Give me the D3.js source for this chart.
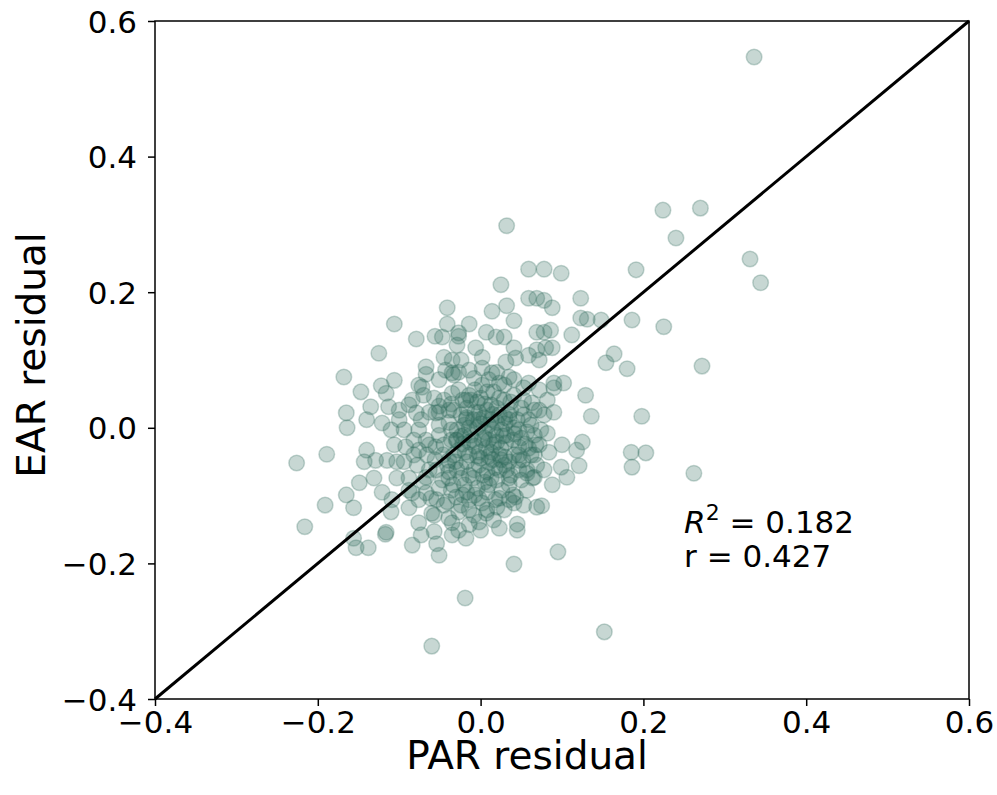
<!DOCTYPE html>
<html><head><meta charset="utf-8">
<script src="https://cdn.jsdelivr.net/npm/d3@7"></script>
<style>html,body{margin:0;padding:0;background:#fff;}svg{display:block;font-family:"DejaVu Sans",sans-serif;}</style>
</head><body>
<script>
// PAR residual (x) and EAR residual (y)
const parX = [
0.336,0.224,0.270,0.240,0.331,0.344,0.032,0.191,0.225,0.186,0.272,0.180,0.164,0.154,0.198,
0.185,0.203,0.186,0.262,
0.152,-0.060,-0.019,0.041,0.095,-0.226,-0.216,-0.191,-0.189,-0.168,-0.153,-0.138,-0.125,-0.106,-0.156,
-0.117,-0.084,-0.073,-0.054,-0.051,-0.057,-0.035,-0.018,0.045,
-0.041,-0.041,-0.014,-0.079,-0.056,-0.027,-0.029,-0.006,-0.045,-0.024,-0.106,-0.067,-0.067,-0.035,-0.027,-0.122,-0.147,-0.076,
0.059,0.078,0.099,0.025,0.059,0.069,0.078,0.088,0.123,0.032,0.014,0.041,0.123,0.131,0.148,0.069,0.078,0.086,0.112,0.007,0.019,0.029,0.041,0.069,0.080,0.088,0.059,0.072,0.002,0.031,0.043,-0.027,-0.047,-0.035,-0.043,0.002,0.014,0.035,0.090,0.102,0.002,0.023,
-0.135,-0.165,-0.140,-0.164,-0.116,-0.113,-0.121,-0.100,-0.084,-0.079,-0.072,-0.055,-0.140,-0.143,-0.129,-0.115,-0.103,-0.092,-0.067,-0.076,-0.055,-0.149,-0.131,-0.165,-0.156,-0.121,-0.109,-0.110,-0.088,-0.084,-0.067,-0.054,-0.060,-0.076,-0.116,-0.035,-0.027,-0.047,-0.067,-0.039,-0.030,-0.018,-0.039,-0.018,-0.035,
0.129,0.136,0.090,0.082,0.100,0.125,0.118,0.121,0.106,0.099,0.088,0.066,0.057,0.062,0.068,0.047,0.084,0.043,0.041,0.020,0.069,0.075,0.045,0.007,0.063,0.090,0.072,0.059,
-0.014,0.000,0.016,0.029,0.041,0.008,-0.007,0.023,0.037,0.053,-0.020,-0.004,0.010,0.026,0.041,0.057,-0.029,-0.014,0.002,0.016,0.031,0.047,-0.014,0.000,0.015,0.030,-0.024,-0.008,0.008,0.023,0.037,-0.039,-0.020,-0.004,0.010,0.026,-0.030,-0.014,0.002,0.018,-0.045,-0.027,-0.008,
-0.051,-0.045,-0.036,-0.056,-0.041,-0.066,-0.063,-0.078,-0.088,-0.094,-0.082,-0.106,-0.103,-0.088,-0.076,
0.053,0.059,0.066,0.072,0.082,0.047,0.035,0.057,0.010,-0.008,0.029,-0.027,-0.045,-0.057,-0.017,0.004,0.019,0.035,-0.012,-0.027,0.007,0.023,-0.002,0.013,-0.017,0.029,0.041,-0.033,-0.051,0.050,0.059,0.069,0.078,0.053,0.029,0.016,-0.014,0.000,0.023,
-0.004,0.013,-0.024,0.020,0.005,-0.009,0.032,-0.020,-0.033,0.010,
-0.007,0.008,0.023,0.037,0.050,0.066,0.078,-0.022,-0.036,-0.051,-0.063,-0.073,-0.017,-0.002,0.015,0.030,0.045,0.062,0.074,
-0.039,-0.029,-0.014,0.000,0.015,0.030,0.047,-0.051,-0.036,-0.022,-0.007,0.010,0.025,0.040,0.055,0.072,
-0.063,-0.046,-0.031,-0.017,-0.002,0.013,0.035,0.052,0.066,-0.054,-0.039,-0.024,-0.009,0.005,0.020,0.035,0.050,0.064,
-0.070,-0.051,-0.036,-0.022,-0.007,0.008,0.023,0.040,-0.061,-0.041,-0.024,0.008,0.035,-0.057,-0.039,-0.002,-0.014,
-0.082,-0.094,-0.100,-0.110,-0.076,-0.088,-0.070,0.041,0.053,0.020,-0.014,-0.033,-0.051,
-0.012,0.005,0.020,0.035,-0.002,0.013,0.028,0.042,-0.024,-0.009,0.005,0.020,-0.019,-0.004,0.010,0.025,-0.014,0.003,0.018,0.032,-0.029,0.047,0.057,-0.034,-0.002
];
const earY = [
0.547,0.321,0.324,0.280,0.249,0.214,0.298,0.233,0.149,0.159,0.091,0.087,0.109,0.096,0.017,
-0.036,-0.037,-0.058,-0.067,
-0.301,-0.322,-0.251,-0.201,-0.183,-0.052,-0.146,-0.114,-0.039,0.075,-0.177,-0.177,0.110,0.153,-0.163,
-0.157,-0.173,-0.158,-0.171,-0.188,-0.153,-0.158,-0.163,-0.151,
0.177,0.153,0.153,0.131,0.135,0.135,0.122,0.118,0.104,0.100,0.070,0.090,0.079,0.081,0.082,0.062,0.053,0.063,
0.234,0.234,0.228,0.211,0.191,0.191,0.188,0.177,0.191,0.180,0.172,0.158,0.162,0.160,0.159,0.141,0.141,0.144,0.137,0.141,0.134,0.134,0.118,0.115,0.118,0.118,0.107,0.100,0.104,0.097,0.103,0.140,0.134,0.100,0.085,0.088,0.081,0.075,0.066,0.066,0.063,0.066,
0.031,0.022,0.012,0.000,0.051,0.031,0.007,0.026,0.041,0.022,0.060,0.022,-0.033,-0.050,-0.048,-0.048,-0.050,-0.028,-0.018,-0.033,-0.028,-0.081,-0.074,-0.099,-0.118,-0.095,-0.106,-0.124,-0.118,-0.096,-0.096,-0.106,-0.126,-0.140,-0.154,-0.140,-0.151,-0.077,-0.073,-0.048,-0.018,0.012,0.026,0.041,0.051,
0.048,0.017,0.023,-0.008,-0.025,-0.021,-0.033,-0.056,-0.073,-0.058,-0.084,-0.073,-0.067,-0.040,-0.025,-0.048,-0.036,-0.102,-0.111,-0.117,-0.117,-0.115,-0.142,-0.126,0.037,0.059,0.026,0.066,
0.048,0.044,0.053,0.041,0.048,0.026,0.023,0.019,0.026,0.019,0.004,0.000,0.004,-0.003,0.000,-0.006,-0.018,-0.021,-0.018,-0.025,-0.022,-0.028,-0.040,-0.045,-0.047,-0.043,-0.059,-0.062,-0.065,-0.062,-0.070,-0.074,-0.084,-0.089,-0.084,-0.092,-0.102,-0.106,-0.111,-0.106,-0.114,-0.124,-0.129,
0.004,-0.025,-0.003,-0.047,-0.055,-0.040,-0.062,-0.055,-0.074,-0.003,-0.018,-0.025,-0.074,-0.092,-0.106,
0.041,0.012,-0.011,0.056,0.041,-0.062,-0.084,-0.092,0.071,0.073,0.063,0.056,0.041,0.044,0.029,0.015,-0.011,0.012,-0.011,-0.033,-0.030,-0.040,-0.055,-0.074,-0.095,-0.055,-0.040,0.026,0.023,-0.015,-0.030,-0.055,-0.062,-0.114,-0.121,-0.136,-0.143,-0.151,-0.148,
0.038,0.034,0.019,0.008,-0.006,0.012,-0.011,-0.011,-0.040,-0.051,
0.056,0.053,0.044,0.038,0.029,0.026,0.019,0.041,0.035,0.032,0.023,0.012,0.015,0.023,0.020,0.015,0.012,0.004,-0.003,
0.008,-0.003,0.000,0.006,-0.003,0.006,-0.003,-0.011,-0.018,-0.024,-0.027,-0.018,-0.030,-0.018,-0.024,-0.025,
-0.025,-0.040,-0.050,-0.050,-0.036,-0.036,-0.050,-0.047,-0.040,-0.062,-0.065,-0.074,-0.074,-0.080,-0.077,-0.074,-0.077,-0.074,
-0.080,-0.089,-0.092,-0.099,-0.099,-0.095,-0.104,-0.099,-0.104,-0.109,-0.114,-0.121,-0.106,-0.129,-0.133,-0.139,-0.121,
-0.040,-0.050,0.012,-0.003,-0.003,0.034,0.048,0.071,0.059,0.082,0.085,0.078,0.071,
0.041,0.035,0.029,0.020,0.012,0.012,-0.012,-0.009,-0.012,-0.018,-0.015,-0.021,-0.036,-0.042,-0.042,-0.047,-0.070,-0.070,-0.059,-0.062,-0.062,-0.040,-0.062,-0.084,-0.104
];
const tickValues = [-0.4,-0.2,0.0,0.2,0.4,0.6];
const axisDomain = [-0.4,0.6];
const xLabel = "PAR residual";
const yLabel = "EAR residual";
const r2Text = "0.182";
const rText = "0.427";
const annotAnchor = [0.25,-0.155];

const W=997,H=795;
const m={l:155,r:969,t:21,b:699};
const svg=d3.select("body").append("svg").attr("width",W).attr("height",H);
const x=d3.scaleLinear().domain(axisDomain).range([m.l,m.r]);
const y=d3.scaleLinear().domain(axisDomain).range([m.b,m.t]);
const pts=parX.map((v,i)=>({x:v,y:earY[i]}));
const col="#2f6b5b";

svg.append("g").selectAll("circle").data(pts).join("circle")
  .attr("cx",d=>x(d.x)).attr("cy",d=>y(d.y)).attr("r",7.8)
  .attr("fill",col).attr("fill-opacity",0.27)
  .attr("stroke",col).attr("stroke-opacity",0.27).attr("stroke-width",1.5);

svg.append("line").attr("x1",x(axisDomain[0])).attr("y1",y(axisDomain[0]))
  .attr("x2",x(axisDomain[1])).attr("y2",y(axisDomain[1]))
  .attr("stroke","#000").attr("stroke-width",3);

const fmt=d3.format(".1f");
const gx=svg.append("g").attr("transform",`translate(0,${m.b})`)
  .call(d3.axisBottom(x).tickValues(tickValues).tickFormat(fmt).tickSize(7).tickPadding(5));
const gy=svg.append("g").attr("transform",`translate(${m.l},0)`)
  .call(d3.axisLeft(y).tickValues(tickValues).tickFormat(fmt).tickSize(7).tickPadding(11));
[gx,gy].forEach(g=>{
  g.select(".domain").remove();
  g.selectAll(".tick line").attr("stroke","#000").attr("stroke-width",1.5);
  g.selectAll(".tick text").attr("fill","#000").style("font-size","31px").style("font-family","DejaVu Sans");
});
gy.selectAll(".tick text").attr("dy","0.36em");

svg.append("rect").attr("x",m.l).attr("y",m.t).attr("width",m.r-m.l).attr("height",m.b-m.t)
  .attr("fill","none").attr("stroke","#000").attr("stroke-width",1.5);

svg.append("text").attr("x",527).attr("y",769).attr("text-anchor","middle")
  .style("font-size","39px").text(xLabel);
svg.append("text").attr("transform",`translate(45,355) rotate(-90)`).attr("text-anchor","middle")
  .style("font-size","39px").text(yLabel);

const ax=x(annotAnchor[0]), ay=y(annotAnchor[1]);
const t1=svg.append("text").attr("x",ax).attr("y",ay).style("font-size","31px");
t1.append("tspan").style("font-style","italic").text("R");
t1.append("tspan").attr("dy",-13).style("font-size","22px").text("2");
t1.append("tspan").attr("dy",13).text(" = "+r2Text);
svg.append("text").attr("x",ax).attr("y",ay+34).style("font-size","31px").text("r = "+rText);
</script>
</body></html>
